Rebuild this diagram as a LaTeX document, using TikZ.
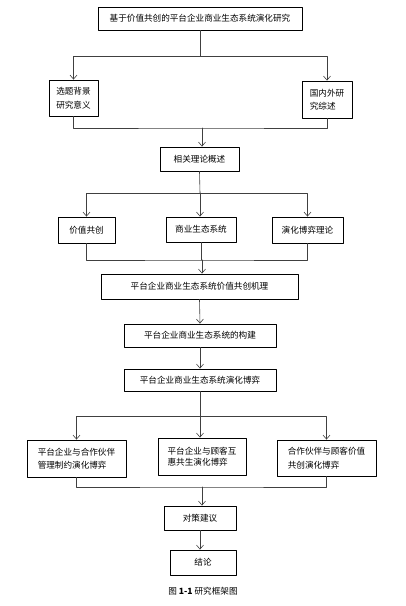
\documentclass[tikz,border=0pt]{standalone}
\usepackage{fontspec}
\setmainfont{Noto Sans CJK SC}
\usetikzlibrary{arrows.meta}
\begin{document}
\begin{tikzpicture}[x=1pt, y=-1pt, font=\fontsize{8.6}{13.5}\selectfont, line join=round, line cap=round,
	>={Straight Barb[length=4pt,width=7pt]},
	box/.style={draw, line width=0.9pt, inner sep=2pt, minimum width=#1},
	link/.style={draw=black!75, line width=0.6pt}]
	\useasboundingbox (0,0) rectangle (405,606);
	% boxes
	\node[box=204, minimum height=23] (title) at (200,18.5) {基于价值共创的平台企业商业生态系统演化研究};
	\node[box=49, minimum height=36, align=left] (bg) at (73.5,98) {选题背景\\研究意义};
	\node[box=50, minimum height=37, align=left] (lit) at (327,99.5) {国内外研\\究综述};
	\node[box=79, minimum height=24] (theory) at (199.5,159) {相关理论概述};
	\node[box=57, minimum height=26] (vcc) at (86.5,230) {价值共创};
	\node[box=70, minimum height=25] (bes) at (201,229.5) {商业生态系统};
	\node[box=71, minimum height=26] (evo) at (307.5,230) {演化博弈理论};
	\node[box=197, minimum height=25] (mech) at (199.5,286.5) {平台企业商业生态系统价值共创机理};
	\node[box=152, minimum height=23] (build) at (200,335.5) {平台企业商业生态系统的构建};
	\node[box=152, minimum height=22] (game) at (200,380) {平台企业商业生态系统演化博弈};
	\node[box=99, minimum height=37, align=left] (pp) at (76.5,458.5) {平台企业与合作伙伴\\管理制约演化博弈};
	\node[box=88, minimum height=37, align=left, font=\fontsize{8.6}{11}\selectfont] (pc) at (202,456.5) {平台企业与顾客互\\惠共生演化博弈};
	\node[box=99, minimum height=36, align=left] (cc) at (326.5,458) {合作伙伴与顾客价值\\共创演化博弈};
	\node[box=72, minimum height=24] (policy) at (200,518) {对策建议};
	\node[box=66, minimum height=25] (concl) at (203,562.5) {结论};
	\node (cap) at (203,591) {图 \textbf{1-1} 研究框架图};
	% junctions
	\coordinate (s1) at (200,56);
	\coordinate (m1) at (202,128);
	\coordinate (s2) at (200,193);
	\coordinate (m2) at (202,260);
	\coordinate (s3) at (200,416);
	\coordinate (m3) at (202,487);
	% connectors
	\draw[link] (title.south) -- (s1);
	\draw[link,->] (s1) -| (bg.north);
	\draw[link,->] (s1) -| (lit.north);
	\draw[link] (bg.south) |- (m1) -| (lit.south);
	\draw[link,->] (m1) -- (m1 |- theory.north);
	\draw[link] (theory.south) -- (s2);
	\draw[link,->] (s2) -| (vcc.north);
	\draw[link,->] (s2) -- (bes.north -| s2);
	\draw[link,->] (s2) -| (evo.north);
	\draw[link] (vcc.south) |- (m2) -| (evo.south);
	\draw[link] (bes.south) -- (bes.south |- m2);
	\draw[link,->] (m2) -- (m2 |- mech.north);
	\draw[link,->] (mech.south) -- (build.north);
	\draw[link,->] (build.south) -- (game.north);
	\draw[link] (game.south) -- (s3);
	\draw[link,->] (s3) -| (pp.north);
	\draw[link,->] (s3) -- (pc.north -| s3);
	\draw[link,->] (s3) -| (cc.north);
	\draw[link] (pp.south) |- (m3) -| (cc.south);
	\draw[link,->] (m3) -- (m3 |- policy.north);
	\draw[link,->] (policy.south) -- (policy.south |- concl.north);
\end{tikzpicture}
\end{document}
